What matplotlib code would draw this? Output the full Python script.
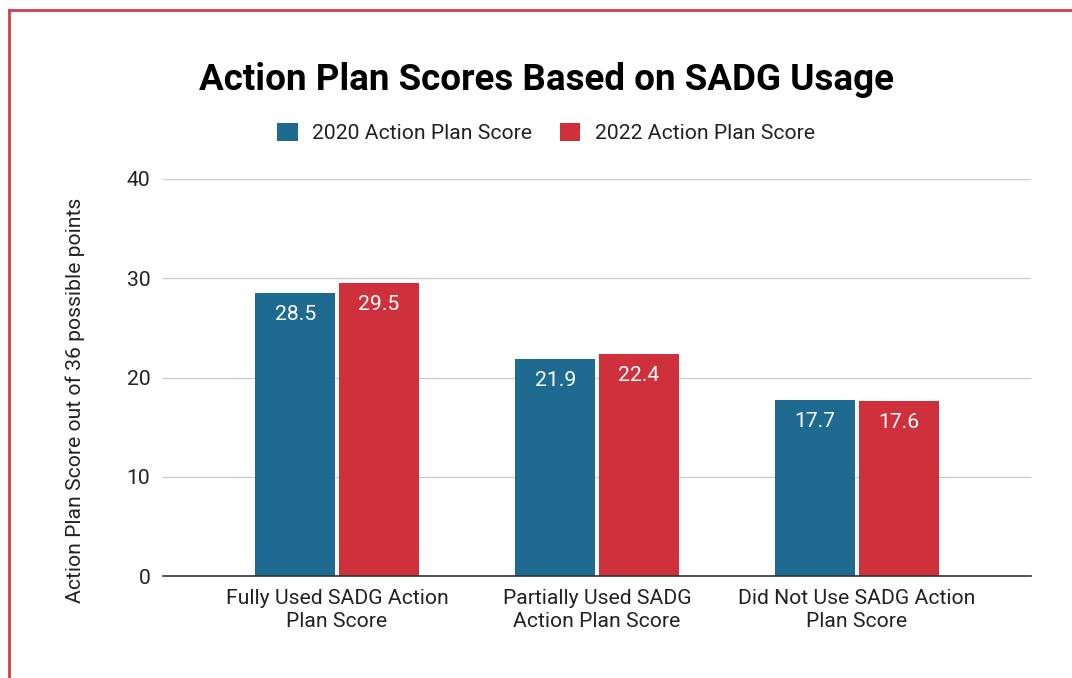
import matplotlib.pyplot as plt
import numpy as np
from matplotlib.lines import Line2D

plt.rcParams['font.family'] = ['Roboto', 'DejaVu Sans']

# data
categories = ['Fully Used SADG Action\nPlan Score',
              'Partially Used SADG\nAction Plan Score',
              'Did Not Use SADG Action\nPlan Score']
scores_2020 = [28.5, 21.9, 17.7]
scores_2022 = [29.5, 22.4, 17.6]
series_names = ['2020 Action Plan Score', '2022 Action Plan Score']
colors = ['#1f6a91', '#cf313c']

fs = 15.2
fig = plt.figure(figsize=(10.72, 6.78), dpi=100)
ax = fig.add_axes([163 / 1072, 1 - 576 / 678, (1031 - 163) / 1072, (576 - 179) / 678])

x = np.arange(len(categories))
w = 0.31
gap = 0.006
b1 = ax.bar(x - w / 2 - gap, scores_2020, w, color=colors[0], label=series_names[0], zorder=3)
b2 = ax.bar(x + w / 2 + gap, scores_2022, w, color=colors[1], label=series_names[1], zorder=3)

for bars, vals in [(b1, scores_2020), (b2, scores_2022)]:
    for r, v in zip(bars, vals):
        ax.annotate(f'{v:.1f}', (r.get_x() + r.get_width() / 2, v),
                    xytext=(0, -15.5), textcoords='offset points',
                    ha='center', va='center', color='white', fontsize=fs, zorder=4)

ax.set_ylim(0, 40)
ax.set_xlim(-174 / 260, 2 + 174 / 260)
ax.set_yticks([0, 10, 20, 30, 40])
ax.set_xticks(x)
ax.set_xticklabels(categories, fontsize=fs, color='#222222', linespacing=1.3)
ax.tick_params(axis='both', length=0, labelsize=fs, colors='#222222')
ax.tick_params(axis='y', pad=9)
ax.tick_params(axis='x', pad=9)
ax.grid(axis='y', color='#cccccc', linewidth=1, zorder=0)
for s in ['top', 'right', 'left']:
    ax.spines[s].set_visible(False)
ax.spines['bottom'].set_color('#333333')
ax.spines['bottom'].set_linewidth(1.2)
ax.spines['bottom'].set_zorder(5)

fig.text(546 / 1072, 1 - 80 / 678, 'Action Plan Scores Based on SADG Usage',
         ha='center', va='center', fontsize=26.5, fontweight='bold', color='black')
fig.text(75 / 1072, 1 - 400 / 678, 'Action Plan Score out of 36 possible points',
         ha='center', va='center', rotation=90, fontsize=fs, color='#222222')

fig.legend(loc='center', bbox_to_anchor=(546 / 1072, 1 - 133 / 678), ncol=2,
           frameon=False, fontsize=fs, handlelength=0.95, handleheight=0.95,
           columnspacing=1.3, handletextpad=0.7, labelcolor='#222222')

# red border along left and top
fig.add_artist(Line2D([9 / 1072, 9 / 1072], [0, 1 - 10 / 678], color='#d0404a', linewidth=2,
                      transform=fig.transFigure))
fig.add_artist(Line2D([9 / 1072, 1], [1 - 10 / 678, 1 - 10 / 678], color='#d0404a', linewidth=2,
                      transform=fig.transFigure))

fig.savefig('out.png', dpi=100)
